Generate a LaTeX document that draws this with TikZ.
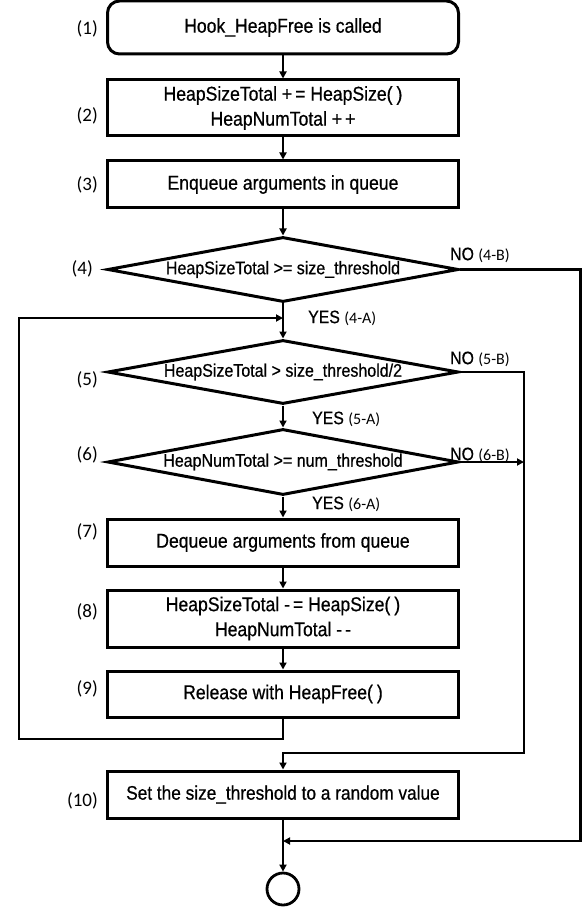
\documentclass[tikz,border=0pt]{standalone}
\usepackage{fontspec}
\setmainfont{Liberation Sans}
\newfontfamily\gfont[FakeStretch=0.88,FakeBold=0.6]{Liberation Sans}
\newfontfamily\cfont{Carlito}
\newcommand{\subl}{\cfont\fontsize{16}{18}\selectfont}
\usetikzlibrary{shapes.geometric,arrows.meta}
\begin{document}
\begin{tikzpicture}[x=1pt,y=-1pt,
  box/.style={draw, line width=3pt, minimum width=351pt, inner sep=0pt,
    font=\gfont\fontsize{20}{25}\selectfont, align=center},
  dia/.style={draw, diamond, line width=3pt, minimum width=351pt, inner sep=0pt,
    font=\gfont\fontsize{18.2}{20}\selectfont},
  conn/.style={line width=2.8pt, -{Triangle[length=7pt,width=7pt]}},
  num/.style={font=\cfont\fontsize{19}{20}\selectfont, anchor=east, inner sep=0pt},
  yn/.style={font=\gfont\fontsize{18}{19}\selectfont, anchor=west, inner sep=0pt}]
\useasboundingbox (0,0) rectangle (582,909);

\node[box, minimum height=53pt, rounded corners=12pt] (b1) at (283,27.5) {Hook\_HeapFree is called};
\node[box, minimum height=56pt] (b2) at (283,108) {HeapSizeTotal +\kern3pt= HeapSize(\kern4pt)\\HeapNumTotal +\kern3pt+};
\node[box, minimum height=47pt] (b3) at (283,184.5) {Enqueue arguments in queue};
\node[dia, minimum height=65pt] (d4) at (283,269.5) {\makebox[0pt]{HeapSizeTotal >= size\_threshold}};
\node[dia, minimum height=64pt] (d5) at (283,372) {\makebox[0pt]{HeapSizeTotal > size\_threshold/2}};
\node[dia, minimum height=66pt] (d6) at (283,462) {\makebox[0pt]{HeapNumTotal >= num\_threshold}};
\node[box, minimum height=47pt] (b7) at (283,542.5) {Dequeue arguments from queue};
\node[box, minimum height=57pt] (b8) at (283,618.5) {HeapSizeTotal -\kern3pt= HeapSize(\kern4pt)\\HeapNumTotal -\kern3pt-};
\node[box, minimum height=46pt] (b9) at (283,694) {Release with HeapFree(\kern4pt)};
\node[box, minimum height=47pt, font=\gfont\fontsize{19.6}{22}\selectfont] (b10) at (283,794.5) {Set the size\_threshold to a random value};
\node[draw, circle, line width=2.8pt, minimum size=32pt, inner sep=0pt] (end) at (283,889) {};

\coordinate (j4) at (283,318);
\coordinate (l1) at (283,739);
\coordinate (l2) at (19,739);
\coordinate (l3) at (19,318);
\coordinate (r4a) at (580.5,269.5);
\coordinate (r4b) at (580.5,841);
\coordinate (j10) at (283,841);
\coordinate (r5a) at (524,372);
\coordinate (r5b) at (524,753);
\coordinate (j5) at (283,753);
\coordinate (r6) at (524,462);

\draw[conn] (b1) -- (b2);
\draw[conn] (b2) -- (b3);
\draw[conn] (b3) -- (d4);
\draw[conn] (d4) -- (d5);
\draw[conn] (d5) -- (d6);
\draw[conn] (d6) -- (b7);
\draw[conn] (b7) -- (b8);
\draw[conn] (b8) -- (b9);
\draw[conn] (b9.south) -- (l1) -- (l2) -- (l3) -- (j4);
\draw[conn] (d4.east) -- (r4a) -- (r4b) -- (j10);
\draw[conn] (d5.east) -- (r5a) -- (r5b) -- (j5) -- (b10.north);
\draw[conn] (d6.east) -- (r6);
\draw[conn] (b10) -- (end);

\node[num] (n1) at (98,29) {(1)};
\node[num] (n2) at (98,116) {(2)};
\node[num] (n3) at (98,185) {(3)};
\node[num] (n4) at (93,269) {(4)};
\node[num] (n5) at (98,380) {(5)};
\node[num] (n6) at (98,455) {(6)};
\node[num] (n7) at (98,532) {(7)};
\node[num] (n8) at (98,612) {(8)};
\node[num] (n9) at (98,689) {(9)};
\node[num] (n10) at (98,801) {(10)};

\node[yn] (yes4) at (308,318) {YES {\subl (4-A)}};
\node[yn] (no4) at (450,255) {NO {\subl (4-B)}};
\node[yn] (no5) at (450,359) {NO {\subl (5-B)}};
\node[yn] (yes5) at (312,419) {YES {\subl (5-A)}};
\node[yn] (no6) at (450,455) {NO {\subl (6-B)}};
\node[yn] (yes6) at (312,504) {YES {\subl (6-A)}};
\end{tikzpicture}
\end{document}
